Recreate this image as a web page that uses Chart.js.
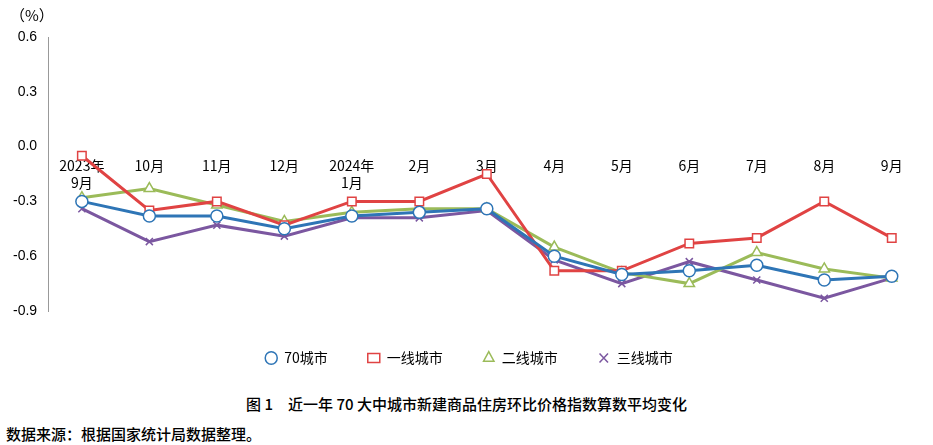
<!DOCTYPE html>
<html><head><meta charset="utf-8">
<script src="https://cdn.jsdelivr.net/npm/chart.js@4"></script>
<style>
body{margin:0;background:#fff;font-family:"Noto Sans CJK SC","Noto Sans",sans-serif;}
#wrap{position:relative;width:933px;height:375px;}
#unit{position:absolute;left:10px;top:4px;font-size:15px;color:#000;}
#title{position:absolute;top:393px;width:933px;text-align:center;font-size:15px;font-weight:500;}
#src{position:absolute;left:6px;top:423px;font-size:15px;font-weight:500;}
</style></head><body>
<div id="wrap"><canvas id="c"></canvas><div id="unit">（%）</div></div>
<div id="title">图 1　近一年 70 大中城市新建商品住房环比价格指数算数平均变化</div>
<div id="src">数据来源：根据国家统计局数据整理。</div>
<script>
const categories=[["2023年","9月"],"10月","11月","12月",["2024年","1月"],"2月","3月","4月","5月","6月","7月","8月","9月"];
const city70=[-0.30,-0.38,-0.38,-0.45,-0.38,-0.36,-0.34,-0.60,-0.70,-0.68,-0.65,-0.73,-0.71];
const tier1=[-0.05,-0.35,-0.30,-0.43,-0.30,-0.30,-0.15,-0.68,-0.68,-0.53,-0.50,-0.30,-0.50];
const tier2=[-0.28,-0.23,-0.32,-0.41,-0.36,-0.34,-0.34,-0.55,-0.69,-0.75,-0.58,-0.67,-0.72];
const tier3=[-0.34,-0.52,-0.43,-0.49,-0.39,-0.39,-0.35,-0.62,-0.75,-0.63,-0.73,-0.83,-0.72];
const names=["70城市","一线城市","二线城市","三线城市"];
const colors=["#2e75b6","#e04343","#9bbb59","#7b57a0"];
const styles=["circle","rect","triangle","crossRot"];
const series=[city70,tier1,tier2,tier3];
new Chart(document.getElementById('c'),{
 type:'line',
 data:{labels:categories,datasets:series.map((d,i)=>({label:names[i],data:d,borderColor:colors[i],backgroundColor:'#fff',
  borderWidth:3,pointStyle:styles[i],pointRadius:i==3?5:6,pointBorderWidth:1.5,pointBackgroundColor:'#fff',pointBorderColor:colors[i],tension:0}))},
 options:{responsive:true,maintainAspectRatio:false,animation:false,
  layout:{padding:{left:10,right:5,top:37,bottom:0}},
  plugins:{legend:{position:'bottom',labels:{usePointStyle:true,boxHeight:9,pointStyleWidth:12,color:'#000',font:{size:14,family:'"Noto Sans CJK SC"'},padding:40}}},
  scales:{
   x:{position:{y:0},offset:true,grid:{display:false,offset:true},border:{display:false},ticks:{color:'#000',font:{size:14,family:'"Noto Sans CJK SC"'},maxRotation:0,autoSkip:false}},
   y:{min:-0.9,max:0.6,ticks:{stepSize:0.3,color:'#000',font:{size:14},callback:v=>v.toFixed(1)},grid:{display:false},border:{display:true,color:'#999'}}
  }}
});
</script></body></html>
